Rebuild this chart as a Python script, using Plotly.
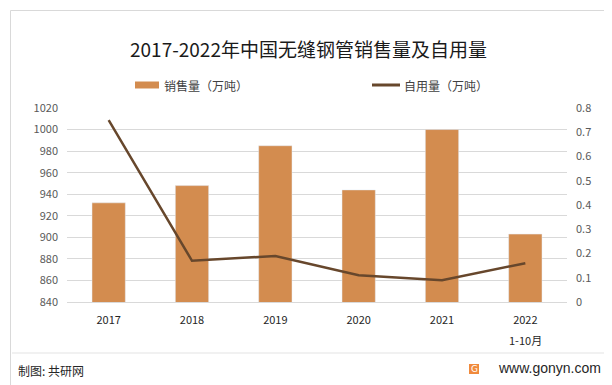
import plotly.graph_objects as go

years = ["2017", "2018", "2019", "2020", "2021", "2022"]
tick_labels = ["2017", "2018", "2019", "2020", "2021", "2022"]
last_sub_label = "1-10月"
sales = [932, 948, 985, 944, 1000, 903]
self_use = [0.75, 0.17, 0.19, 0.11, 0.09, 0.16]

BAR_COLOR = "#D38C4F"
LINE_COLOR = "#67472C"
FONT = "Noto Sans CJK SC"

fig = go.Figure()
fig.add_trace(go.Bar(x=years, y=sales, name="销售量（万吨）", marker_color=BAR_COLOR,
                     width=0.4, showlegend=False, yaxis="y"))
fig.add_trace(go.Scatter(x=years, y=self_use, name="自用量（万吨）", mode="lines",
                         line=dict(color=LINE_COLOR, width=2.5), showlegend=False, yaxis="y2"))

L, R, T, B = 59, 559, 100, 294
W, H = 612, 385
pw, ph = R - L, B - T

def px(x):
    return (x - L) / pw

def py(y):
    return (B - y) / ph

shapes = [
    dict(type="rect", xref="paper", yref="paper", x0=px(2.5), x1=px(608.5), y0=py(2.5), y1=py(382.5),
         line=dict(color="#D9D9D9", width=1), layer="below"),
    dict(type="line", xref="paper", yref="paper", x0=px(4), x1=px(596), y0=py(345), y1=py(345),
         line=dict(color="#E3E3E3", width=1)),
    dict(type="rect", xref="paper", yref="paper", x0=px(127), x1=px(151), y0=py(80.5), y1=py(73.5),
         fillcolor=BAR_COLOR, line=dict(width=0)),
    dict(type="line", xref="paper", yref="paper", x0=px(364), x1=px(392), y0=py(77), y1=py(77),
         line=dict(color=LINE_COLOR, width=3)),
    dict(type="rect", xref="paper", yref="paper", x0=px(461), x1=px(471), y0=py(356), y1=py(366),
         fillcolor="#F08A3C", line=dict(width=0)),
]

annotations = [
    dict(text="2017-2022年中国无缝钢管销售量及自用量", x=px(300), y=py(40), xref="paper", yref="paper",
         showarrow=False, font=dict(size=19, color="#1a1a1a", family=FONT), xanchor="center", yanchor="middle"),
    dict(text="销售量（万吨）", x=px(154), y=py(77), xref="paper", yref="paper", showarrow=False,
         font=dict(size=12, color="#404040", family=FONT), xanchor="left", yanchor="middle"),
    dict(text="自用量（万吨）", x=px(394), y=py(77), xref="paper", yref="paper", showarrow=False,
         font=dict(size=12, color="#404040", family=FONT), xanchor="left", yanchor="middle"),
    dict(text=last_sub_label, x=len(years) - 1, y=py(332), xref="x", yref="paper", showarrow=False,
         font=dict(size=11, color="#262626", family=FONT), xanchor="center", yanchor="middle"),
    dict(text="制图: 共研网", x=px(8), y=py(362), xref="paper", yref="paper", showarrow=False,
         font=dict(size=12, color="#262626", family=FONT), xanchor="left", yanchor="middle"),
    dict(text="G", x=px(466), y=py(361), xref="paper", yref="paper", showarrow=False,
         font=dict(size=9, color="white", family="DejaVu Sans"), xanchor="center", yanchor="middle"),
    dict(text="www.gonyn.com", x=px(595), y=py(360), xref="paper", yref="paper", showarrow=False,
         font=dict(size=14, color="#262626", family="Liberation Sans"), xanchor="right", yanchor="middle"),
]

fig.update_layout(
    width=W, height=H,
    margin=dict(l=L, r=W - R, t=T, b=H - B, pad=0),
    paper_bgcolor="white", plot_bgcolor="white",
    font=dict(family=FONT, size=11, color="#595959"),
    xaxis=dict(type="category", tickmode="array", tickvals=years, ticktext=tick_labels, showgrid=False,
               showline=True, linecolor="#D9D9D9", linewidth=1, ticks="", ticklabelstandoff=8,
               tickfont=dict(size=11, color="#262626", family=FONT)),
    yaxis=dict(range=[840, 1020], dtick=20, showgrid=True, gridcolor="#D9D9D9", gridwidth=1,
               zeroline=False, showline=False, ticks="", ticklabelstandoff=8,
               tickfont=dict(size=11, color="#595959", family=FONT)),
    yaxis2=dict(range=[0, 0.8], dtick=0.1, overlaying="y", side="right", showgrid=False,
                zeroline=False, showline=False, ticks="", ticklabelstandoff=8,
                tickfont=dict(size=11, color="#595959", family=FONT)),
    shapes=shapes,
    annotations=annotations,
)

fig.write_html("out.html")
